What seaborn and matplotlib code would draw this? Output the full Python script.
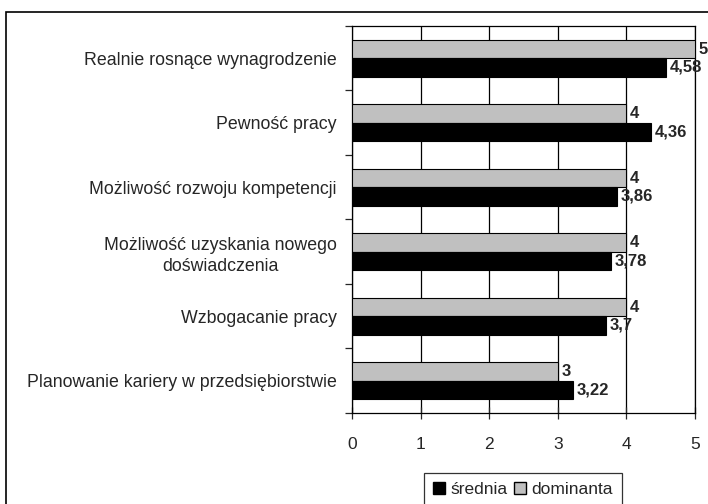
import matplotlib
matplotlib.use("Agg")
import matplotlib.pyplot as plt
from matplotlib.patches import Rectangle, Patch
import seaborn as sns
import pandas as pd

categories = [
    "Realnie rosnące wynagrodzenie",
    "Pewność pracy",
    "Możliwość rozwoju kompetencji",
    "Możliwość uzyskania nowego\ndoświadczenia",
    "Wzbogacanie pracy",
    "Planowanie kariery w przedsiębiorstwie",
]
srednia = [4.58, 4.36, 3.86, 3.78, 3.7, 3.22]
dominanta = [5, 4, 4, 4, 4, 3]
series_names = ["średnia", "dominanta"]
x_ticks = [0, 1, 2, 3, 4, 5]

df = pd.DataFrame({
    "kategoria": categories * 2,
    "wartosc": dominanta + srednia,
    "miara": [series_names[1]] * len(categories) + [series_names[0]] * len(categories),
})

sns.set_style("white")
plt.rcParams["font.family"] = ["Liberation Sans", "DejaVu Sans"]

fig = plt.figure(figsize=(7.08, 5.04), dpi=100)
ax = fig.add_axes([352 / 708, 1 - 413 / 504, (695 - 352) / 708, (413 - 26) / 504])

palette = {series_names[1]: "#c0c0c0", series_names[0]: "#000000"}
sns.barplot(
    data=df, y="kategoria", x="wartosc", hue="miara",
    hue_order=[series_names[1], series_names[0]], order=categories,
    palette=palette, orient="h", width=0.57, edgecolor="black", linewidth=0.8,
    saturation=1, ax=ax, legend=False, zorder=3,
)

# value labels with decimal comma
for cont in ax.containers:
    labels = [f"{v:g}".replace(".", ",") for v in cont.datavalues]
    ax.bar_label(cont, labels=labels, padding=2.5, fontsize=12, fontweight="bold")
for t in ax.texts:
    t.set_clip_on(False)

ax.set_xlim(0, 5)
ax.set_ylim(len(categories) - 0.5, -0.5)
ax.set_xticks(x_ticks)
ax.set_xticklabels([str(v) for v in x_ticks], fontsize=12.5)
ax.xaxis.grid(True, color="black", linewidth=0.9, zorder=0)
ax.set_axisbelow(True)
ax.tick_params(axis="x", direction="inout", length=8, width=0.9, pad=13, bottom=True)

ax.set_yticks(range(len(categories)))
ax.set_yticklabels(categories, fontsize=12.8, multialignment="center", linespacing=1.3)
ax.set_yticks([i - 0.5 for i in range(len(categories) + 1)], minor=True)
ax.tick_params(axis="y", which="major", length=0, pad=11)
ax.tick_params(axis="y", which="minor", length=5, width=0.9, left=True, direction="out")

for side, sp in ax.spines.items():
    sp.set_visible(True)
    sp.set_color("black")
    sp.set_linewidth(0.9)

ax.set_xlabel("")
ax.set_ylabel("")

handles = [
    Patch(facecolor="#000000", edgecolor="black", label=series_names[0]),
    Patch(facecolor="#c0c0c0", edgecolor="black", label=series_names[1]),
]
leg = fig.legend(
    handles=handles, loc="upper center", bbox_to_anchor=(523 / 708, 1 - 473 / 504),
    ncol=2, fontsize=12.5, frameon=True, fancybox=False, edgecolor="black",
    handlelength=0.7, handleheight=0.7, handletextpad=0.3, columnspacing=0.4,
    borderpad=0.5, borderaxespad=0,
)
leg.get_frame().set_linewidth(0.9)

# outer chart frame
fig.patches.append(Rectangle((6 / 708, -0.05), 1.1, 1 - 12 / 504 + 0.05,
                             transform=fig.transFigure, fill=False,
                             edgecolor="black", linewidth=1.2))

fig.savefig("out.png", dpi=100)
